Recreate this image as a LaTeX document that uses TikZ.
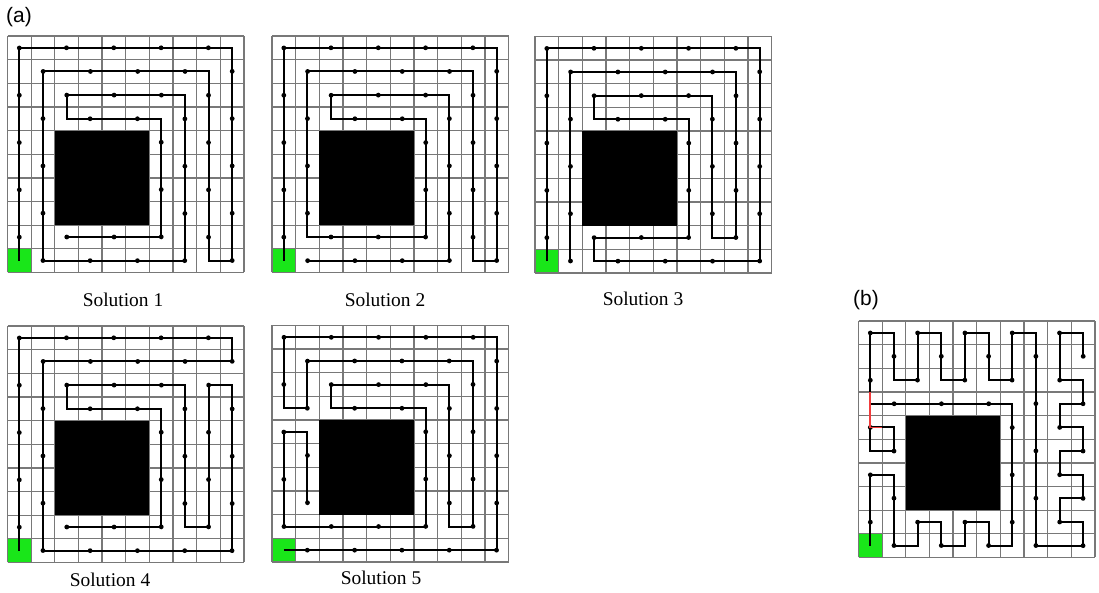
\documentclass[tikz,border=0pt]{standalone}
\usepackage{fontspec}
\setmainfont{Liberation Serif}
\newfontfamily\labfont{Liberation Sans}
\usetikzlibrary{decorations.markings}
\definecolor{gridgray}{RGB}{120,120,120}
\definecolor{startgreen}{RGB}{25,230,25}
\definecolor{jumpred}{RGB}{240,60,60}
\tikzset{
  gridline/.style={draw=gridgray, line width=1.3bp},
  route/.style={draw=black, line width=2bp, line join=miter,
    postaction={decorate, decoration={markings,
      mark=between positions 23.5bp and 1 step 47.3bp with {\fill[black] (0,0) circle (2.4bp);}}}},
  dotmark/.style={fill=black},
  sollabel/.style={font=\fontsize{19.5}{22}\selectfont, inner sep=0pt},
  panellabel/.style={font=\labfont\fontsize{21}{24}\selectfont, inner sep=0pt},
  field/.style={x=23.65bp, y=23.65bp},
}
\newcommand\fieldbase{%
  \fill[startgreen] (0,0) rectangle (1,1);
  \foreach \k in {0,...,10} {\draw[gridline] (\k,0) -- (\k,10); \draw[gridline] (0,\k) -- (10,\k);}
  \fill[black] (2,2) rectangle (6,6);
}
\begin{document}
\begin{tikzpicture}[x=1bp, y=1bp]
\fill[white] (0,0) rectangle (1099,593);
\useasboundingbox (0,0) rectangle (1099,593);

% Solution 1
\begin{scope}[xshift=7.5bp, yshift=320.5bp, field]
  \fieldbase
  \begin{scope}[shift={(0.5,0.5)}]
    \draw[route] (0,0)--(0,9)--(9,9)--(9,0)--(8,0)--(8,8)--(1,8)--(1,0)--(7,0)--(7,7)--(2,7)--(2,6)--(6,6)--(6,1)--(2,1);
  \end{scope}
\end{scope}

% Solution 2
\begin{scope}[xshift=272bp, yshift=320.5bp, field]
  \fieldbase
  \begin{scope}[shift={(0.5,0.5)}]
    \draw[route] (0,0)--(0,9)--(9,9)--(9,0)--(8,0)--(8,8)--(1,8)--(1,1)--(6,1)--(6,6)--(2,6)--(2,7)--(7,7)--(7,0)--(1,0);
  \end{scope}
\end{scope}

% Solution 3
\begin{scope}[xshift=535bp, yshift=320bp, field]
  \fieldbase
  \begin{scope}[shift={(0.5,0.5)}]
    \draw[route] (0,0)--(0,9)--(9,9)--(9,0)--(2,0)--(2,1)--(6,1)--(6,6)--(2,6)--(2,7)--(7,7)--(7,1)--(8,1)--(8,8)--(1,8)--(1,0);
  \end{scope}
\end{scope}

% Solution 4
\begin{scope}[xshift=7.5bp, yshift=30.5bp, field]
  \fieldbase
  \begin{scope}[shift={(0.5,0.5)}]
    \draw[route] (0,0)--(0,9)--(9,9)--(9,8)--(1,8)--(1,0)--(9,0)--(9,7)--(8,7)--(8,1)--(7,1)--(7,7)--(2,7)--(2,6)--(6,6)--(6,1)--(2,1);
  \end{scope}
\end{scope}

% Solution 5
\begin{scope}[xshift=272bp, yshift=31bp, field]
  \fieldbase
  \begin{scope}[shift={(0.5,0.5)}]
    \draw[route] (0,0)--(9,0)--(9,9)--(0,9)--(0,6)--(1,6)--(1,8)--(8,8)--(8,1)--(7,1)--(7,7)--(2,7)--(2,6)--(6,6)--(6,1)--(0,1)--(0,5)--(1,5)--(1,2);
  \end{scope}
\end{scope}

% Panel (b)
\begin{scope}[xshift=858.5bp, yshift=35.5bp, field]
  \fieldbase
  \begin{scope}[shift={(0.5,0.5)}]
    \draw[route] (0,0)--(0,3)--(1,3)--(1,0)--(2,0)--(2,1)--(3,1)--(3,0)--(4,0)--(4,1)--(5,1)--(5,0)--(6,0)--(6,6)--(0,6)--(0,9)--(1,9)--(1,7)--(2,7)--(2,9)--(3,9)--(3,7)--(4,7)--(4,9)--(5,9)--(5,7)--(6,7)--(6,9)--(7,9)--(7,0)--(9,0)--(9,1)--(8,1)--(8,2)--(9,2)--(9,3)--(8,3)--(8,4)--(9,4)--(9,5)--(8,5)--(8,6)--(9,6)--(9,7)--(8,7)--(8,9)--(9,9)--(9,8);
    \draw[draw=black, line width=2bp] (0,5)--(0,4)--(1,4)--(1,5)--(0,5);
    \fill[dotmark] (0,5) circle (2.4bp);
    \fill[dotmark] (1,4) circle (2.4bp);
    \draw[draw=jumpred, line width=1.8bp] (0,6.5)--(0,5)--(0.5,5);
  \end{scope}
\end{scope}

\node[panellabel] (pa) at (19,576) {(a)};
\node[panellabel] (pb) at (866,293) {(b)};
\node[sollabel] (l1) at (123,293) {Solution 1};
\node[sollabel] (l2) at (385,293) {Solution 2};
\node[sollabel] (l3) at (643,294) {Solution 3};
\node[sollabel] (l4) at (110,13) {Solution 4};
\node[sollabel] (l5) at (381,15) {Solution 5};
\end{tikzpicture}
\end{document}
